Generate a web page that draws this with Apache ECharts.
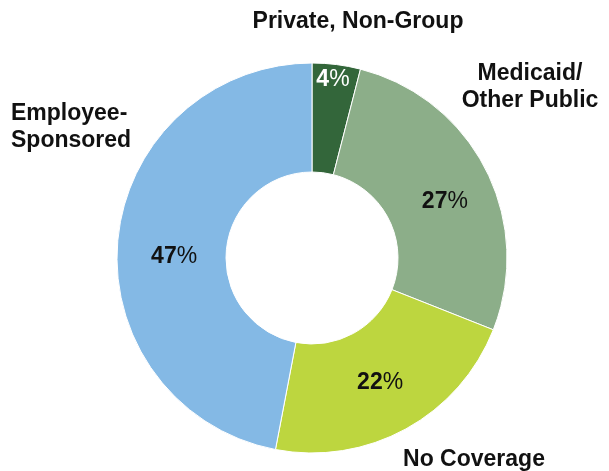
<!DOCTYPE html>
<html>
<head>
<meta charset="utf-8">
<script src="https://cdn.jsdelivr.net/npm/echarts@6/dist/echarts.min.js"></script>
<style>html,body{margin:0;padding:0;background:#fff;}#c{width:609px;height:471px;}</style>
</head>
<body>
<div id="c"></div>
<script>
var categories = ['Private, Non-Group', 'Medicaid/\nOther Public', 'No Coverage', 'Employee-\nSponsored'];
var values = [4, 27, 22, 47];
var colors = ['#33663a', '#8cae89', '#bdd63f', '#84b9e5'];
var pctColors = ['#ffffff', '#111111', '#111111', '#111111'];

// label layout (positions only)
var nameLabelPos = [
  {x: 358, y: 22, align: 'center'},
  {x: 530, y: 87, align: 'center'},
  {x: 474, y: 460, align: 'center'},
  {x: 11, y: 127, align: 'left'}
];
var pctShift = [[3, -36], [5, 9], [-1, -1], [5, 12]];

var FONT = '"Liberation Sans", Arial, Helvetica, sans-serif';
var chart = echarts.init(document.getElementById('c'), null, {renderer: 'canvas'});

var pctData = categories.map(function (c, i) {
  return {
    name: c, value: values[i],
    itemStyle: {color: colors[i]},
    label: {
      rich: {
        n: {fontFamily: FONT, fontWeight: 'bold', fontSize: 23, color: pctColors[i]},
        p: {fontFamily: FONT, fontWeight: 'normal', fontSize: 23, color: pctColors[i]}
      }
    }
  };
});
var nameData = categories.map(function (c, i) {
  return {name: c, value: values[i]};
});

chart.setOption({
  animation: false,
  series: [
    {
      type: 'pie',
      center: [312, 258],
      radius: [86, 195],
      startAngle: 90,
      clockwise: true,
      silent: true,
      itemStyle: {borderColor: '#ffffff', borderWidth: 1},
      label: {
        show: true,
        position: 'inside',
        formatter: function (p) { return '{n|' + p.value + '}{p|%}'; }
      },
      labelLayout: function (params) {
        var s = pctShift[params.dataIndex];
        return {dx: s[0], dy: s[1]};
      },
      labelLine: {show: false},
      data: pctData
    },
    {
      type: 'pie',
      center: [312, 258],
      radius: [86, 195],
      startAngle: 90,
      clockwise: true,
      silent: true,
      itemStyle: {color: 'rgba(0,0,0,0)'},
      label: {
        show: true,
        position: 'outside',
        fontFamily: FONT,
        fontWeight: 'bold',
        fontSize: 23,
        lineHeight: 27,
        color: '#111111',
        overflow: 'none',
        width: 300,
        formatter: '{b}'
      },
      labelLine: {show: false},
      labelLayout: function (params) {
        var p = nameLabelPos[params.dataIndex];
        return {x: p.x, y: p.y, align: p.align, verticalAlign: 'middle', hideOverlap: false};
      },
      data: nameData
    }
  ]
});
</script>
</body>
</html>
